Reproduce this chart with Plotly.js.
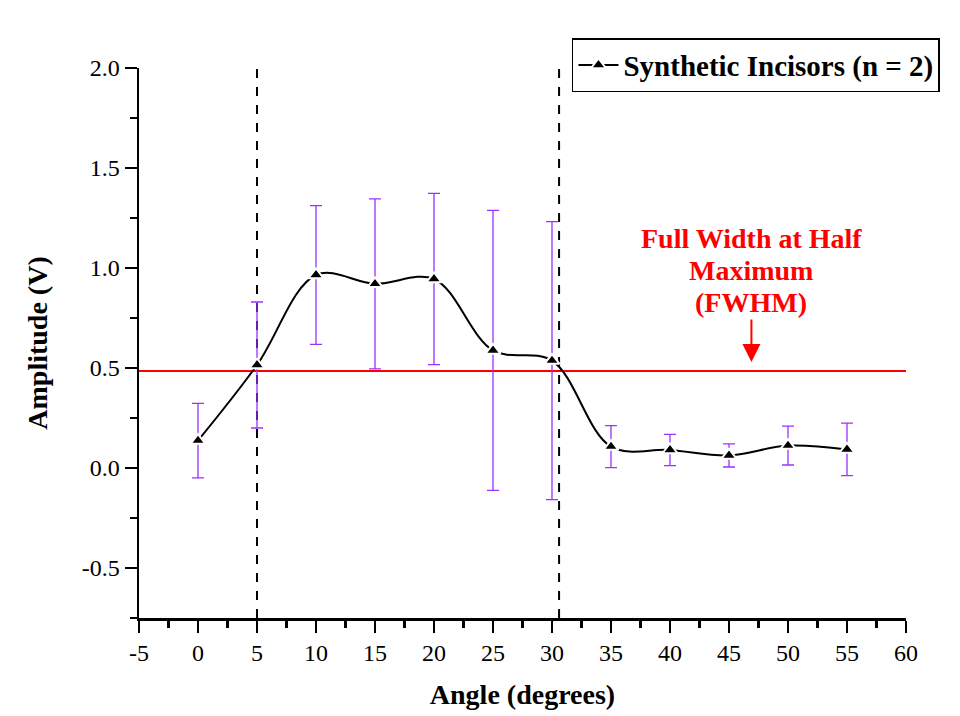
<!DOCTYPE html>
<html>
<head>
<meta charset="utf-8">
<script src="https://cdn.plot.ly/plotly-3.0.1.min.js"></script>
<style>html,body{margin:0;padding:0;background:#fff;}#chart{width:960px;height:716px;}</style>
</head>
<body>
<div id="chart"></div>
<script>
// Data
const angles = [0, 5, 10, 15, 20, 25, 30, 35, 40, 45, 50, 55];
const amplitude = [0.137, 0.515, 0.965, 0.921, 0.945, 0.588, 0.537, 0.107, 0.090, 0.063, 0.112, 0.093];
const amplitudeErr = [0.186, 0.315, 0.347, 0.425, 0.428, 0.700, 0.695, 0.105, 0.078, 0.058, 0.097, 0.131];
const seriesName = 'Synthetic Incisors (n = 2)';
const halfMaximum = 0.485;
const fwhmBounds = [5, 30.6];
const xTicks = [-5, 0, 5, 10, 15, 20, 25, 30, 35, 40, 45, 50, 55, 60];
const yTicks = [-0.5, 0.0, 0.5, 1.0, 1.5, 2.0];
const fwhmLabelLines = ['Full Width at Half', 'Maximum', '(FWHM)'];
const fwhmLabelY = [1.15, 0.99, 0.83];
const fwhmArrowAt = [46.9, 0.53];

const serif = '"Liberation Serif", "Times New Roman", serif';

const trace = {
  x: angles,
  y: amplitude,
  name: '<b>' + seriesName + '</b>',
  type: 'scatter',
  mode: 'lines+markers',
  line: {color: '#000', width: 2, shape: 'spline', smoothing: 1},
  marker: {symbol: 'triangle-up', size: 13, color: '#000', line: {color: '#fff', width: 2}},
  error_y: {type: 'data', array: amplitudeErr, visible: true, color: '#9933ff', thickness: 1.3, width: 6},
  showlegend: true
};

const halfLine = {
  x: [xTicks[0], xTicks[xTicks.length - 1]],
  y: [halfMaximum, halfMaximum],
  mode: 'lines',
  line: {color: '#ff0000', width: 2},
  showlegend: false,
  hoverinfo: 'skip'
};

const shapes = fwhmBounds.map(b => ({
  type: 'line', xref: 'x', yref: 'paper', x0: b, x1: b, y0: 0, y1: 1,
  line: {color: '#000', width: 2, dash: 'dash'}, layer: 'below'
}));

const annotations = fwhmLabelLines.map((t, i) => ({
  x: fwhmArrowAt[0], y: fwhmLabelY[i], xref: 'x', yref: 'y', text: '<b>' + t + '</b>',
  showarrow: false, font: {family: serif, size: 28, color: '#ff0000'},
  xanchor: 'center', yanchor: 'middle'
}));
annotations.push({
  x: fwhmArrowAt[0], y: fwhmArrowAt[1], xref: 'x', yref: 'y', text: '',
  showarrow: true, arrowhead: 2, arrowsize: 1.8, arrowwidth: 2, arrowcolor: '#ff0000',
  ax: 0, ay: -44
});

const layout = {
  width: 960, height: 716,
  paper_bgcolor: '#fff', plot_bgcolor: '#fff',
  margin: {l: 139, r: 54, t: 68, b: 98},
  font: {family: serif, color: '#000', size: 24},
  xaxis: {
    range: [-5, 60], tickmode: 'array', tickvals: xTicks, ticktext: xTicks.map(String),
    showgrid: false, zeroline: false, showline: true, linecolor: '#000', linewidth: 2.5,
    ticks: 'outside', ticklen: 12, tickwidth: 2.5, tickcolor: '#000',
    minor: {dtick: 2.5, ticks: 'outside', ticklen: 7, tickwidth: 2.5, tickcolor: '#000', showgrid: false},
    tickfont: {family: serif, size: 24},
    title: {text: '<b>Angle (degrees)</b>', font: {family: serif, size: 28}, standoff: 19}
  },
  yaxis: {
    range: [-0.75, 2.0], tickmode: 'array', tickvals: yTicks, ticktext: yTicks.map(v => v.toFixed(1)),
    showgrid: false, zeroline: false, showline: true, linecolor: '#000', linewidth: 2.5,
    ticks: 'outside', ticklen: 12, tickwidth: 2.5, tickcolor: '#000',
    minor: {dtick: 0.25, ticks: 'outside', ticklen: 7, tickwidth: 2.5, tickcolor: '#000', showgrid: false},
    tickfont: {family: serif, size: 24},
    title: {text: '<b>Amplitude (V)</b>', font: {family: serif, size: 28}, standoff: 26}
  },
  legend: {
    x: 0.5645, y: 1.0545, xanchor: 'left', yanchor: 'top',
    bordercolor: '#000', borderwidth: 1.5, bgcolor: '#fff',
    font: {family: serif, size: 29, color: '#000'},
    itemwidth: 40
  },
  shapes: shapes,
  annotations: annotations
};

Plotly.newPlot('chart', [halfLine, trace], layout, {displayModeBar: false, staticPlot: true});
</script>
</body>
</html>
